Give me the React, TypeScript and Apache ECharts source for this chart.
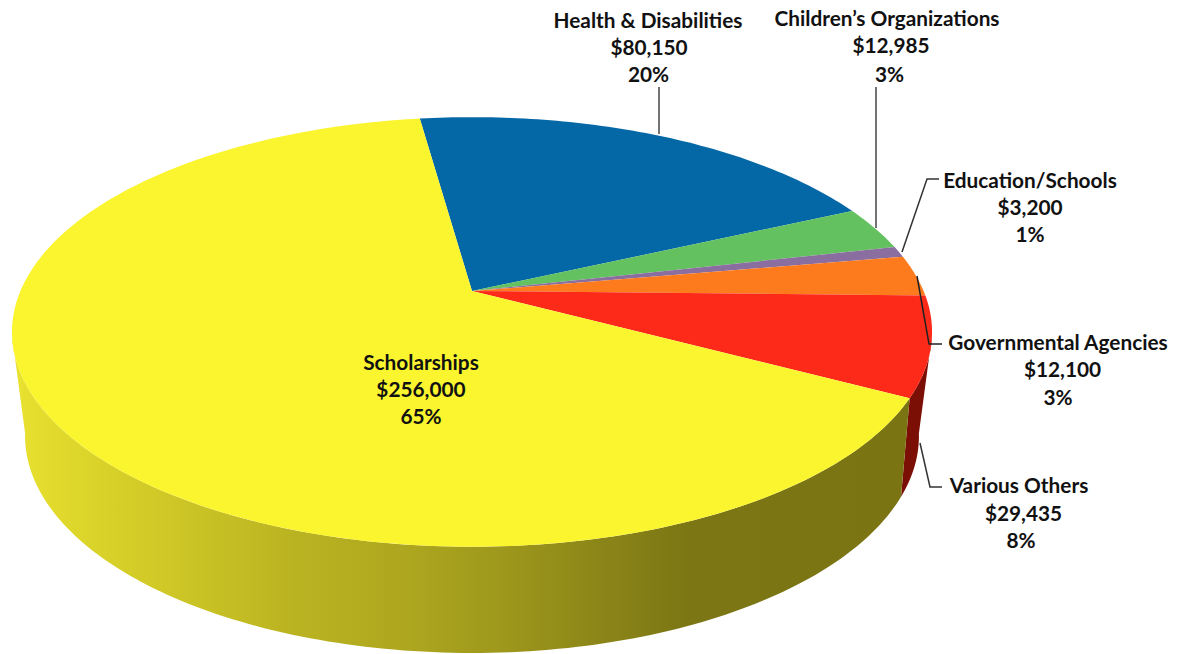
import React, { useEffect, useRef } from "react";
import * as echarts from "echarts";

// Data
const categories = [
  "Health & Disabilities",
  "Children’s Organizations",
  "Education/Schools",
  "Governmental Agencies",
  "Various Others",
  "Scholarships",
];
const values = [80150, 12985, 3200, 12100, 29435, 256000];
const amountLabels = ["$80,150", "$12,985", "$3,200", "$12,100", "$29,435", "$256,000"];
const percentLabels = ["20%", "3%", "1%", "3%", "8%", "65%"];

// Styles
const topColors = ["#0568A6", "#63C15F", "#8A6EA0", "#FD7B1D", "#FD2A1A", "#FAF52F"];
const wallColors = ["#03406a", "#3c7a3a", "#564565", "#a04d10", "#7B0F05", "#7A7413"];

// Projection: top face and bottom face of the drum are perspective circles
const START_DEG = -7.9;
const TOP = { cx: 472, cy: 291, a: 207, b: 451.6, k: 0.1907 };
const BOTTOM = { cx: 472, cy: 388.2, a: 206.5, b: 436, k: 0.22 };
// The part of the rim that faces the viewer, clockwise from 12 o'clock
const VISIBLE_FROM = 102;
const VISIBLE_TO = 258;
const project = (p: typeof TOP, deg: number): number[] => {
  const t = (deg * Math.PI) / 180;
  const u = Math.sin(t);
  const v = -Math.cos(t);
  const d = 1 - p.k * v;
  return [p.cx + (p.b * u) / d, p.cy + (p.a * v) / d];
};
const total = values.reduce((s, v) => s + v, 0);
const angleRange = (idx: number): [number, number] => {
  let before = 0;
  for (let i = 0; i < idx; i++) before += values[i];
  return [
    START_DEG + (before / total) * 360,
    START_DEG + ((before + values[idx]) / total) * 360,
  ];
};
const arc = (p: typeof TOP, a0: number, a1: number): number[][] => {
  const n = Math.max(2, Math.ceil(Math.abs(a1 - a0)));
  const pts: number[][] = [];
  for (let i = 0; i <= n; i++) pts.push(project(p, a0 + ((a1 - a0) * i) / n));
  return pts;
};

const FONT = "Lato, sans-serif";
const INK = "#111111";

// Label placement: centre x and centre y of each of the three lines
const labelX = [
  [648, 649, 648.5],
  [887, 891, 889.5],
  [1030, 1030, 1030],
  [1058, 1062.5, 1058],
  [1019, 1023.5, 1021],
  [421, 421, 421],
];
const labelY = [
  [19, 46, 73],
  [17, 44, 73],
  [179, 206, 233],
  [341, 368, 396],
  [484, 512, 539],
  [361, 388, 415],
];
// Leader lines
const leaders = [
  { pts: [[659, 87], [659, 134]], color: "#444444" },
  { pts: [[876, 87], [876, 228]], color: "#444444" },
  { pts: [[939, 179], [927, 179], [902, 252]], color: "#333333" },
  { pts: [[942, 344], [929, 344], [917, 276]], color: "#222222" },
  { pts: [[942, 487], [930, 487], [920, 443]], color: "#333333" },
];

export default function App() {
  const ref = useRef<HTMLDivElement>(null);
  useEffect(() => {
    document.body.style.margin = "0";
    const chart = echarts.init(ref.current!, undefined, { renderer: "svg" });
    const wallFill = (i: number) =>
      i === 5
        ? new echarts.graphic.LinearGradient(
            12, 0, 900, 0,
            [
              { offset: 0, color: "#E9E230" },
              { offset: 0.1, color: "#D9D229" },
              { offset: 0.32, color: "#BAB321" },
              { offset: 0.44, color: "#AEA71F" },
              { offset: 0.55, color: "#9E981C" },
              { offset: 0.66, color: "#8C8619" },
              { offset: 0.76, color: "#7C7614" },
              { offset: 1, color: "#7A7413" },
            ],
            true
          )
        : wallColors[i];

    chart.setOption({
      animation: false,
      backgroundColor: "#ffffff",
      tooltip: { show: false },
      series: [
        {
          type: "custom",
          name: "walls",
          coordinateSystem: "none",
          silent: true,
          z: 1,
          clip: false,
          data: values.map((v, i) => [i, v]),
          renderItem: (_: unknown, api: any) => {
            const i = api.value(0) as number;
            const [s0, s1] = angleRange(i);
            const a0 = Math.max(s0, VISIBLE_FROM);
            const a1 = Math.min(s1, VISIBLE_TO);
            if (a1 <= a0) return { type: "group", children: [] };
            const points = [...arc(TOP, a0, a1), ...arc(BOTTOM, a1, a0)];
            return { type: "polygon", shape: { points }, style: { fill: wallFill(i) } };
          },
        },
        {
          type: "custom",
          name: "faces",
          coordinateSystem: "none",
          silent: true,
          z: 2,
          clip: false,
          data: values.map((v, i) => [i, v]),
          renderItem: (_: unknown, api: any) => {
            const i = api.value(0) as number;
            const [a0, a1] = angleRange(i);
            const points = [[TOP.cx, TOP.cy], ...arc(TOP, a0, a1)];
            return { type: "polygon", shape: { points }, style: { fill: topColors[i] } };
          },
        },
      ],
      graphic: [
        ...leaders.map((l) => ({
          type: "polyline",
          z: 10,
          silent: true,
          shape: { points: l.pts },
          style: { stroke: l.color, lineWidth: 1.5, fill: "none" },
        })),
        ...categories.flatMap((c, i) =>
          [c, amountLabels[i], percentLabels[i]].map((t, j) => ({
            type: "text",
            z: 11,
            silent: true,
            x: labelX[i][j],
            y: labelY[i][j],
            style: {
              text: t,
              fill: INK,
              font: `bold 20.8px ${FONT}`,
              align: "center",
              verticalAlign: "middle",
            },
          }))
        ),
      ],
    });
    return () => chart.dispose();
  }, []);
  return <div ref={ref} style={{ width: 1186, height: 654, overflow: "hidden" }} />;
}
